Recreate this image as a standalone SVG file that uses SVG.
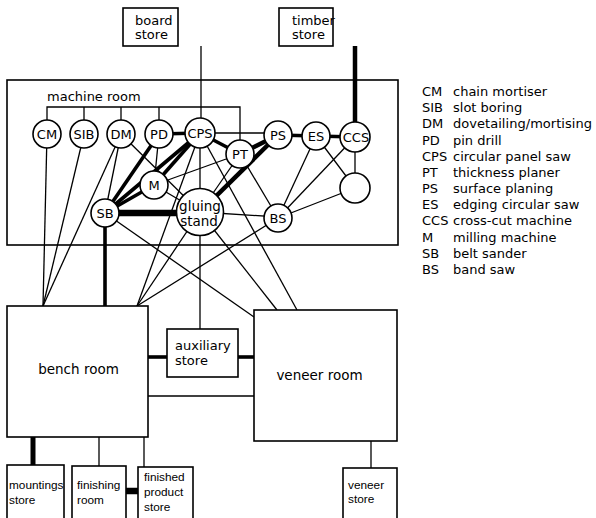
<svg xmlns="http://www.w3.org/2000/svg" width="596" height="518" viewBox="0 0 596 518">
<style>
  .t { font-family: "DejaVu Sans", "Liberation Sans", sans-serif; font-size: 13px; fill: #000; }
  .s { font-family: "Liberation Sans", Arial, sans-serif; font-size: 11.8px; fill: #000; }
  .c { text-anchor: middle; }
  .ln { stroke: #000; stroke-width: 1.3; fill: none; stroke-linecap: butt; }
  .tk { stroke: #000; stroke-width: 3.6; fill: none; }
  .vt { stroke: #000; stroke-width: 6.5; fill: none; }
  .box { fill: #fff; stroke: #000; stroke-width: 1.6; }
  .room { fill: none; stroke: #000; stroke-width: 1.6; }
  .nd { fill: #fff; stroke: #000; stroke-width: 1.6; }
</style>
<rect width="596" height="518" fill="#fff"/>

<g id="machine-room">
  <rect class="room" x="7" y="80" width="391" height="165"/>
  <text class="t" x="47" y="101">machine room</text>
</g>

<g id="connectors">
  <polyline class="ln" points="47,134 47,107 240,107 240,154"/>
  <line class="ln" x1="84" y1="107" x2="84" y2="134"/>
  <line class="ln" x1="121" y1="107" x2="121" y2="134"/>
  <line class="ln" x1="159" y1="107" x2="159" y2="134"/>
  <line class="ln" x1="201" y1="46" x2="201" y2="133"/>
  <line class="tk" x1="355" y1="46" x2="355" y2="137" style="stroke-width:4.5"/>
  <line class="tk" x1="159" y1="134" x2="200" y2="133"/>
  <line class="ln" x1="200" y1="133" x2="278" y2="133"/>
  <line class="tk" x1="200" y1="133" x2="240" y2="154"/>
  <line class="tk" x1="240" y1="154" x2="278" y2="135" style="stroke-width:4.5"/>
  <line class="tk" x1="278" y1="135" x2="316" y2="136"/>
  <line class="tk" x1="316" y1="136" x2="355" y2="137"/>
  <line class="ln" x1="355" y1="137" x2="355" y2="188"/>
  <line class="ln" x1="316" y1="136" x2="355" y2="188"/>
  <line class="ln" x1="355" y1="137" x2="278" y2="218"/>
  <line class="ln" x1="316" y1="136" x2="278" y2="218"/>
  <line class="ln" x1="355" y1="188" x2="278" y2="218"/>
  <line class="tk" x1="278" y1="135" x2="200" y2="212" style="stroke-width:4.5"/>
  <line class="ln" x1="240" y1="154" x2="278" y2="218"/>
  <line class="ln" x1="240" y1="154" x2="200" y2="212"/>
  <line class="ln" x1="240" y1="154" x2="154" y2="185"/>
  <line class="ln" x1="200" y1="212" x2="278" y2="217"/>
  <line class="ln" x1="121" y1="134" x2="105" y2="213"/>
  <line class="ln" x1="121" y1="134" x2="200" y2="212"/>
  <line class="tk" x1="159" y1="134" x2="105" y2="213"/>
  <line class="ln" x1="159" y1="134" x2="154" y2="185"/>
  <line class="tk" x1="200" y1="133" x2="105" y2="213"/>
  <line class="tk" x1="200" y1="133" x2="154" y2="185"/>
  <line class="tk" x1="154" y1="185" x2="105" y2="213"/>
  <line class="ln" x1="154" y1="185" x2="200" y2="212"/>
  <line class="ln" x1="200" y1="133" x2="200" y2="212"/>
  <line class="vt" x1="105" y1="213" x2="200" y2="213"/>
  <line class="ln" x1="47" y1="134" x2="43" y2="306"/>
  <line class="ln" x1="84" y1="134" x2="43" y2="306"/>
  <line class="ln" x1="121" y1="134" x2="43" y2="306"/>
  <line class="tk" x1="105" y1="213" x2="105" y2="306"/>
  <line class="ln" x1="200" y1="133" x2="137" y2="306"/>
  <line class="ln" x1="200" y1="212" x2="137" y2="306"/>
  <line class="ln" x1="278" y1="218" x2="137" y2="306"/>
  <line class="ln" x1="105" y1="213" x2="254" y2="317"/>
  <line class="ln" x1="200" y1="212" x2="277" y2="310"/>
  <line class="ln" x1="200" y1="133" x2="297" y2="310"/>
  <line class="ln" x1="200" y1="212" x2="200" y2="329"/>
  <line class="tk" x1="148" y1="357" x2="167" y2="357"/>
  <line class="tk" x1="238" y1="357" x2="254" y2="357"/>
  <line class="ln" x1="148" y1="396" x2="254" y2="396"/>
  <line class="tk" x1="33" y1="437" x2="33" y2="465" style="stroke-width:5"/>
  <line class="ln" x1="99" y1="437" x2="99" y2="466"/>
  <line class="ln" x1="144" y1="437" x2="144" y2="467"/>
  <line class="vt" x1="126" y1="491" x2="138" y2="491"/>
  <line class="ln" x1="371" y1="441" x2="371" y2="468"/>
</g>

<g id="board-store"><rect class="box" x="123" y="8" width="55" height="38"/><text class="t" x="135" y="25">board</text><text class="t" x="135" y="39">store</text></g>
<g id="timber-store"><rect class="box" x="279" y="8" width="54" height="38"/><text class="t" x="292" y="25">timber</text><text class="t" x="292" y="39">store</text></g>

<g id="CM"><circle class="nd" cx="47" cy="134" r="14"/><text class="t c" x="47" y="139">CM</text></g>
<g id="SIB"><circle class="nd" cx="84" cy="134" r="14"/><text class="t c" x="84" y="139">SIB</text></g>
<g id="DM"><circle class="nd" cx="121" cy="134" r="14"/><text class="t c" x="121" y="139">DM</text></g>
<g id="PD"><circle class="nd" cx="159" cy="134" r="14"/><text class="t c" x="159" y="139">PD</text></g>
<g id="CPS"><circle class="nd" cx="200" cy="133" r="15"/><text class="t c" x="200" y="138">CPS</text></g>
<g id="PT"><circle class="nd" cx="240" cy="154" r="14"/><text class="t c" x="240" y="159">PT</text></g>
<g id="PS"><circle class="nd" cx="278" cy="135" r="14"/><text class="t c" x="278" y="140">PS</text></g>
<g id="ES"><circle class="nd" cx="316" cy="136" r="14"/><text class="t c" x="316" y="141">ES</text></g>
<g id="CCS"><circle class="nd" cx="355" cy="137" r="15"/><text class="t c" x="356" y="142">CCS</text></g>
<g id="unlabelled"><circle class="nd" cx="355" cy="188" r="15"/></g>
<g id="M"><circle class="nd" cx="154" cy="185" r="14"/><text class="t c" x="154" y="190">M</text></g>
<g id="SB"><circle class="nd" cx="105" cy="213" r="14"/><text class="t c" x="105" y="218">SB</text></g>
<g id="gluing-stand"><circle class="nd" cx="200" cy="212" r="23.5"/><text class="t c" x="200" y="211" style="font-size:13.5px">gluing</text><text class="t c" x="199" y="226" style="font-size:13.5px">stand</text></g>
<g id="BS"><circle class="nd" cx="278" cy="218" r="14"/><text class="t c" x="278" y="223">BS</text></g>

<g id="bench-room"><rect class="box" x="7" y="306" width="141" height="131"/><text class="t c" x="78.5" y="374" style="font-size:13.5px">bench room</text></g>
<g id="auxiliary-store"><rect class="box" x="167" y="329" width="71" height="48"/><text class="t" x="175" y="350">auxiliary</text><text class="t" x="175" y="365">store</text></g>
<g id="veneer-room"><rect class="box" x="254" y="310" width="143" height="131"/><text class="t c" x="319.5" y="380" style="font-size:13.5px">veneer room</text></g>

<g id="mountings-store"><rect class="box" x="7" y="465" width="57" height="60"/><text class="s" x="9" y="489">mountings</text><text class="s" x="9" y="504">store</text></g>
<g id="finishing-room"><rect class="box" x="72" y="466" width="54" height="60"/><text class="s" x="77" y="489">finishing</text><text class="s" x="77" y="504">room</text></g>
<g id="finished-product-store"><rect class="box" x="138" y="467" width="55" height="60"/><text class="s" x="144" y="481">finished</text><text class="s" x="144" y="496">product</text><text class="s" x="144" y="511">store</text></g>
<g id="veneer-store"><rect class="box" x="343" y="468" width="54" height="60"/><text class="s" x="348" y="489">veneer</text><text class="s" x="348" y="503">store</text></g>

<g id="legend">
  <text class="t" x="422" y="96">CM</text><text class="t" x="453" y="96">chain mortiser</text>
  <text class="t" x="422" y="112.2">SIB</text><text class="t" x="453" y="112.2">slot boring</text>
  <text class="t" x="422" y="128.4">DM</text><text class="t" x="453" y="128.4" textLength="139">dovetailing/mortising</text>
  <text class="t" x="422" y="144.5">PD</text><text class="t" x="453" y="144.5">pin drill</text>
  <text class="t" x="422" y="160.7">CPS</text><text class="t" x="453" y="160.7">circular panel saw</text>
  <text class="t" x="422" y="176.9">PT</text><text class="t" x="453" y="176.9">thickness planer</text>
  <text class="t" x="422" y="193.1">PS</text><text class="t" x="453" y="193.1">surface planing</text>
  <text class="t" x="422" y="209.3">ES</text><text class="t" x="453" y="209.3">edging circular saw</text>
  <text class="t" x="422" y="225.4">CCS</text><text class="t" x="453" y="225.4">cross-cut machine</text>
  <text class="t" x="422" y="241.6">M</text><text class="t" x="453" y="241.6">milling machine</text>
  <text class="t" x="422" y="257.8">SB</text><text class="t" x="453" y="257.8">belt sander</text>
  <text class="t" x="422" y="274">BS</text><text class="t" x="453" y="274">band saw</text>
</g>
</svg>
